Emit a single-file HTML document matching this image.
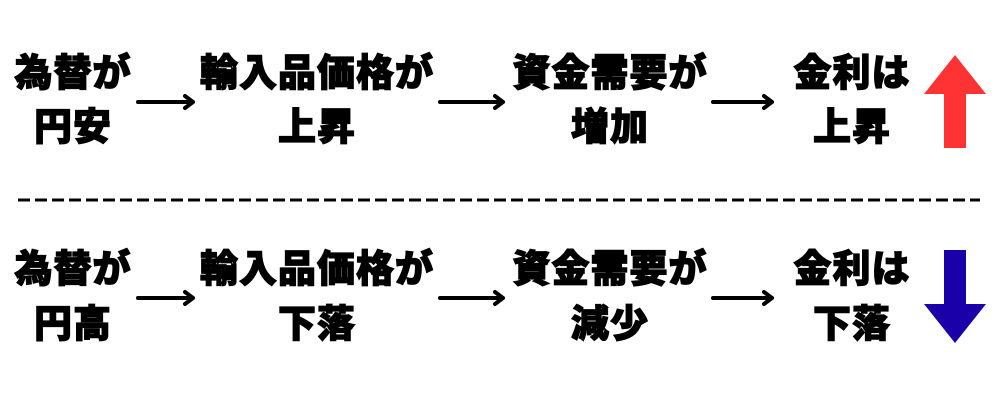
<!DOCTYPE html>
<html><head><meta charset="utf-8"><style>
body{margin:0;width:1000px;height:400px;background:#fff;position:relative;overflow:hidden;font-family:"Liberation Sans","Noto Sans CJK JP",sans-serif;}
.t{position:absolute;font-size:38px;font-weight:900;color:#000;line-height:1;white-space:nowrap;transform:translate(-50%,-50%);letter-spacing:1px;-webkit-text-stroke:1.2px #000}
svg{position:absolute;left:0;top:0}
</style></head><body>
<svg width="1000" height="400">
<g stroke="#000" stroke-width="4" fill="none" stroke-linecap="round" stroke-linejoin="round">
<path d="M138 102H193M185 96L193 102L185 108"/>
<path d="M440 102H503M495 96L503 102L495 108"/>
<path d="M713 102H772M764 96L772 102L764 108"/>
<path d="M138 298H193M185 292L193 298L185 304"/>
<path d="M440 298H503M495 292L503 298L495 304"/>
<path d="M713 298H772M764 292L772 298L764 304"/>
</g>
<line x1="18" y1="200" x2="980" y2="200" stroke="#000" stroke-width="3" stroke-dasharray="12 5"/>
<polygon points="955,55 986,94 966,94 966,148 944,148 944,94 924,94" fill="#ff3333"/>
<polygon points="944,250 966,250 966,304 986,304 955,343 924,304 944,304" fill="#1a00a8"/>
</svg>
<div class="t" style="left:73px;top:74px">為替が</div>
<div class="t" style="left:73px;top:128px">円安</div>
<div class="t" style="left:317px;top:74px">輸入品価格が</div>
<div class="t" style="left:317px;top:128px">上昇</div>
<div class="t" style="left:610px;top:74px">資金需要が</div>
<div class="t" style="left:610px;top:128px">増加</div>
<div class="t" style="left:852px;top:74px">金利は</div>
<div class="t" style="left:852px;top:128px">上昇</div>
<div class="t" style="left:73px;top:270px">為替が</div>
<div class="t" style="left:73px;top:325px">円高</div>
<div class="t" style="left:317px;top:270px">輸入品価格が</div>
<div class="t" style="left:317px;top:325px">下落</div>
<div class="t" style="left:610px;top:270px">資金需要が</div>
<div class="t" style="left:610px;top:325px">減少</div>
<div class="t" style="left:852px;top:270px">金利は</div>
<div class="t" style="left:852px;top:325px">下落</div>
</body></html>
